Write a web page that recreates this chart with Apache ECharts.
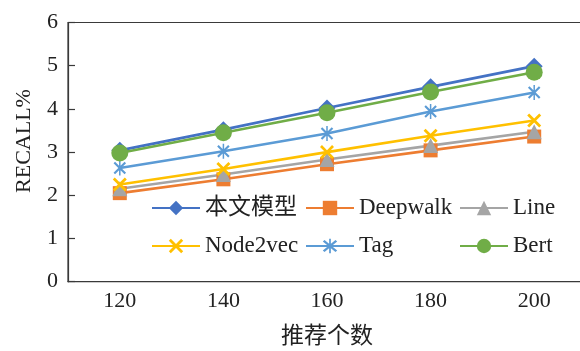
<!DOCTYPE html>
<html>
<head>
<meta charset="utf-8">
<script src="https://cdn.jsdelivr.net/npm/echarts@6/dist/echarts.min.js"></script>
<style>
  html, body { margin: 0; padding: 0; background: #fff; }
  #chart { width: 580px; height: 351px; }
</style>
</head>
<body>
<div id="chart"></div>
<script>
// Recommendation count on the x axis, recall (%) per method on the y axis
const categories = ['120', '140', '160', '180', '200'];
const ourModel  = [3.04, 3.52, 4.02, 4.51, 4.99];
const deepwalk  = [2.05, 2.37, 2.72, 3.04, 3.36];
const lineModel = [2.15, 2.48, 2.83, 3.15, 3.47];
const node2vec  = [2.25, 2.61, 3.00, 3.38, 3.73];
const tag       = [2.63, 3.02, 3.43, 3.94, 4.38];
const bert      = [2.98, 3.45, 3.91, 4.39, 4.85];
const yTicks = [0, 1, 2, 3, 4, 5, 6];

const FONT = '"Liberation Serif", "Times New Roman", "Noto Sans CJK SC", serif';
const AXIS_COLOR = '#3a3a3a';

// Marker shapes drawn as filled outlines
const X_MARK = 'path://M1.4,0 L5,3.6 L8.6,0 L10,1.4 L6.4,5 L10,8.6 L8.6,10 L5,6.4 L1.4,10 L0,8.6 L3.6,5 L0,1.4 Z';
const STAR_MARK = 'path://M1.2,0 L5,3.8 L8.8,0 L10,1.2 L6.2,5 L10,8.8 L8.8,10 L5,6.2 L1.2,10 L0,8.8 L3.8,5 L0,1.2 Z M4.4,-1 L5.6,-1 L5.6,11 L4.4,11 Z';

function makeSeries(name, data, color, symbol, size) {
  return {
    name: name,
    type: 'line',
    data: data,
    symbol: symbol,
    symbolSize: size,
    symbolKeepAspect: true,
    showAllSymbol: true,
    lineStyle: { color: color, width: 2.6 },
    itemStyle: { color: color, borderWidth: 0 },
    emphasis: { disabled: true },
    animation: false
  };
}

const legendText = { fontFamily: FONT, fontSize: 23, color: '#222', lineHeight: 24 };
function legendColumn(left, names) {
  return {
    orient: 'vertical',
    left: left,
    top: 196,
    padding: 0,
    itemWidth: 48,
    itemHeight: 18,
    itemGap: 14,
    data: names,
    textStyle: legendText,
    selectedMode: false
  };
}

const chart = echarts.init(document.getElementById('chart'), null, { renderer: 'canvas' });
chart.setOption({
  backgroundColor: '#ffffff',
  animation: false,
  grid: {
    left: 68, top: 22.5, right: -6, bottom: 69.3,
    containLabel: false,
    outerBoundsMode: 'none',
    show: true, borderColor: AXIS_COLOR, borderWidth: 1.2, backgroundColor: 'transparent'
  },
  legend: [
    legendColumn(151, ['本文模型', 'Node2vec']),
    legendColumn(305, ['Deepwalk', 'Tag']),
    legendColumn(459, ['Line', 'Bert'])
  ],
  xAxis: {
    type: 'category',
    data: categories,
    boundaryGap: true,
    name: '推荐个数',
    nameLocation: 'middle',
    nameGap: 44,
    nameTextStyle: { fontFamily: FONT, fontSize: 23, color: '#222' },
    axisLine: { lineStyle: { color: AXIS_COLOR, width: 1.2 } },
    axisTick: { inside: true, length: 12, alignWithLabel: false, lineStyle: { color: AXIS_COLOR, width: 1.2 } },
    axisLabel: { fontFamily: FONT, fontSize: 22, color: '#222', margin: 9 },
    splitLine: { show: false }
  },
  yAxis: {
    type: 'value',
    min: yTicks[0],
    max: yTicks[yTicks.length - 1],
    interval: 1,
    axisLine: { show: true, lineStyle: { color: AXIS_COLOR, width: 1.2 } },
    axisTick: { show: true, inside: true, length: 7, lineStyle: { color: AXIS_COLOR, width: 1.2 } },
    axisLabel: { fontFamily: FONT, fontSize: 22, color: '#222', margin: 10 },
    splitLine: { show: false }
  },
  graphic: [{
    type: 'text',
    x: 24,
    y: 141,
    rotation: Math.PI / 2,
    style: {
      text: 'RECALL%',
      font: '22px "Liberation Serif", serif',
      fill: '#222',
      align: 'center',
      verticalAlign: 'middle'
    }
  }],
  series: [
    makeSeries('本文模型', ourModel, '#4472C4', 'diamond', 17),
    makeSeries('Deepwalk', deepwalk, '#ED7D31', 'rect', 14),
    makeSeries('Line', lineModel, '#A5A5A5', 'triangle', 15),
    makeSeries('Node2vec', node2vec, '#FFC000', X_MARK, 14),
    makeSeries('Tag', tag, '#5B9BD5', STAR_MARK, 15),
    makeSeries('Bert', bert, '#70AD47', 'circle', 17)
  ]
});
</script>
</body>
</html>
